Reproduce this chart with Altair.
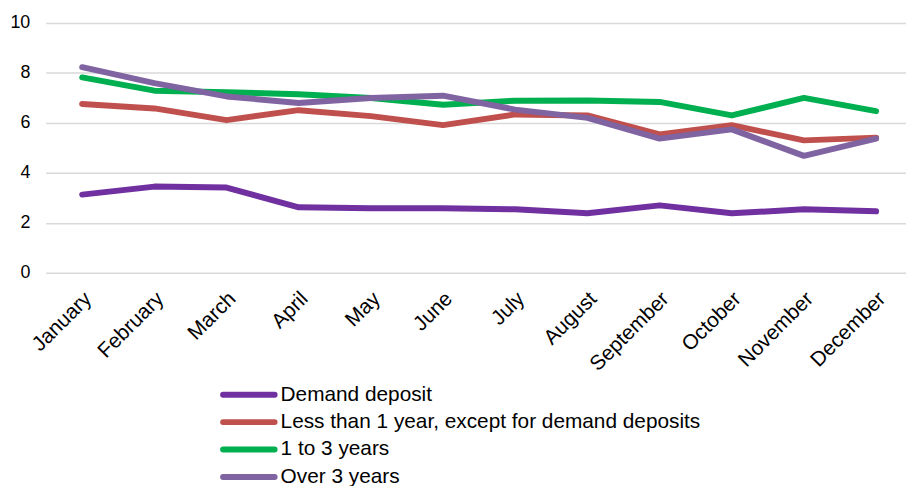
import altair as alt
import pandas as pd

months = ["January", "February", "March", "April", "May", "June", "July",
          "August", "September", "October", "November", "December"]
series_names = ["Demand deposit",
                "Less than 1 year, except for demand deposits",
                "1 to 3 years",
                "Over 3 years"]
demand = [3.13, 3.45, 3.41, 2.62, 2.58, 2.58, 2.54, 2.38, 2.70, 2.38, 2.54, 2.46]
less1 = [6.76, 6.58, 6.11, 6.51, 6.27, 5.91, 6.34, 6.30, 5.54, 5.91, 5.30, 5.41]
one3 = [7.82, 7.29, 7.23, 7.15, 7.00, 6.73, 6.89, 6.90, 6.84, 6.30, 7.00, 6.47]
over3 = [8.23, 7.59, 7.06, 6.80, 7.00, 7.09, 6.53, 6.20, 5.37, 5.74, 4.68, 5.37]
colors = ["#7030A0", "#C0504D", "#00B050", "#8064A2"]

rows = []
for i, (name, vals) in enumerate(zip(series_names, [demand, less1, one3, over3])):
    for m, v in zip(months, vals):
        rows.append({"month": m, "series": name, "value": v, "series_order": i})
df = pd.DataFrame(rows)
legend_df = pd.DataFrame({"series": series_names})

font = "Liberation Sans"
color_scale = alt.Scale(domain=series_names, range=colors)

lines = alt.Chart(df).mark_line(strokeWidth=6, strokeCap="round", strokeJoin="round").encode(
    x=alt.X("month:N", sort=months,
            scale=alt.Scale(type="point", padding=0.46, align=0.55),
            axis=alt.Axis(title=None, labelAngle=-45, ticks=False, domain=False, grid=False,
                          labelFont=font, labelFontSize=21, labelColor="#000000",
                          labelPadding=15, labelOffset=-2)),
    y=alt.Y("value:Q", scale=alt.Scale(domain=[0, 10]),
            axis=alt.Axis(title=None, values=[0, 2, 4, 6, 8, 10], ticks=False, domain=False,
                          gridColor="#D9D9D9", gridWidth=1.5,
                          labelFont=font, labelFontSize=18, labelColor="#000000",
                          labelPadding=16)),
    color=alt.Color("series:N", scale=color_scale, legend=None),
    order=alt.Order("series_order:Q"),
)

legend_y = alt.Y("series:N", sort=series_names,
                 scale=alt.Scale(type="point", domain=series_names, range=[375, 458], padding=0),
                 axis=None)

legend_sym = alt.Chart(legend_df).mark_rule(strokeWidth=6, strokeCap="round").encode(
    x=alt.value(179), x2=alt.value(231), y=legend_y,
    color=alt.Color("series:N", scale=color_scale, legend=None),
)
legend_txt = alt.Chart(legend_df).mark_text(
    align="left", baseline="middle", font=font, fontSize=21, color="#000000"
).encode(
    x=alt.value(237), y=legend_y, text="series:N",
)

chart = alt.layer(lines, legend_sym, legend_txt).resolve_scale(y="independent").properties(
    width=868, height=252,
    autosize=alt.AutoSizeParams(type="none"),
    padding={"left": 38, "top": 13, "right": 0, "bottom": 213},
).configure_view(stroke=None)

chart.save("out.html", embed_options={"renderer": "svg", "actions": False})
